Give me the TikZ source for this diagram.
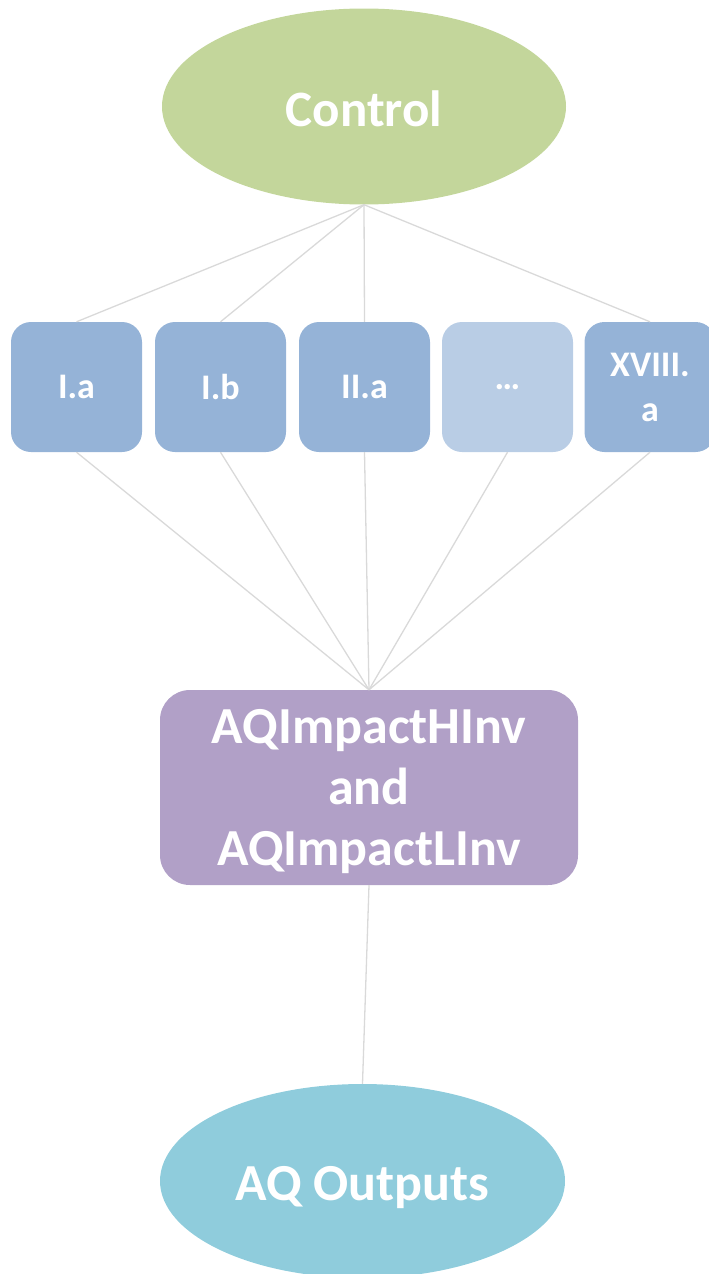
\documentclass[tikz,border=0pt]{standalone}
\usepackage{fontspec}
\setmainfont{Carlito}
\usetikzlibrary{shapes.geometric}
\definecolor{ctrlgreen}{HTML}{C3D69B}
\definecolor{boxblue}{HTML}{95B3D7}
\definecolor{boxlight}{HTML}{B9CDE5}
\definecolor{impurple}{HTML}{B1A0C7}
\definecolor{outcyan}{HTML}{8FCCDC}
\definecolor{linegray}{HTML}{D9D9D9}
\tikzset{
  oval/.style={ellipse, inner sep=0pt, minimum width=404pt, minimum height=196pt},
  bigtext/.style={text=white, inner sep=0pt, font=\bfseries\fontsize{52}{61}\selectfont, align=center},
  catbox/.style={rectangle, rounded corners=20pt, fill=boxblue, inner sep=0pt,
    minimum width=131pt, minimum height=130pt, text=white,
    font=\bfseries\fontsize{36}{45}\selectfont, align=center},
  impbox/.style={rectangle, rounded corners=30pt, fill=impurple, inner sep=0pt,
    minimum width=418pt, minimum height=195pt},
  link/.style={draw=linegray, line width=1.3pt}
}
\begin{document}
\begin{tikzpicture}[x=1pt,y=-1pt]
\useasboundingbox (0,0) rectangle (709,1274);
\clip (0,0) rectangle (709,1274);
\node[oval, fill=ctrlgreen] (ctrl) at (364,106.5) {};
\node[bigtext, font=\bfseries\fontsize{51}{61}\selectfont] (ctrlt) at ([yshift=-2pt]ctrl.center) {Control};
\node[catbox] (b1) at (76.5,387) {I.a};
\node[catbox] (b2) at (220.5,387) {I.b};
\node[catbox] (b3) at (364.5,387) {II.a};
\node[catbox, fill=boxlight] (b4) at (507.5,387) {\ldots};
\node[catbox] (b5) at (650,387) {XVIII.\\a};
\node[impbox] (imp) at (369,787.5) {};
\node[bigtext] (impt) at ([yshift=-4pt]imp.center) {AQImpactHInv\\and\\AQImpactLInv};
\node[oval, fill=outcyan, minimum width=405pt, minimum height=194pt] (out) at (362.5,1181) {};
\node[bigtext] (outt) at ([yshift=-7pt]out.center) {AQ Outputs};
\foreach \b in {b1,b2,b3,b5} \draw[link] (ctrl.south) -- (\b.north);
\foreach \b in {b1,b2,b3,b4,b5} \draw[link] (\b.south) -- (imp.north);
\draw[link] (imp.south) -- (out.north);
\end{tikzpicture}
\end{document}
